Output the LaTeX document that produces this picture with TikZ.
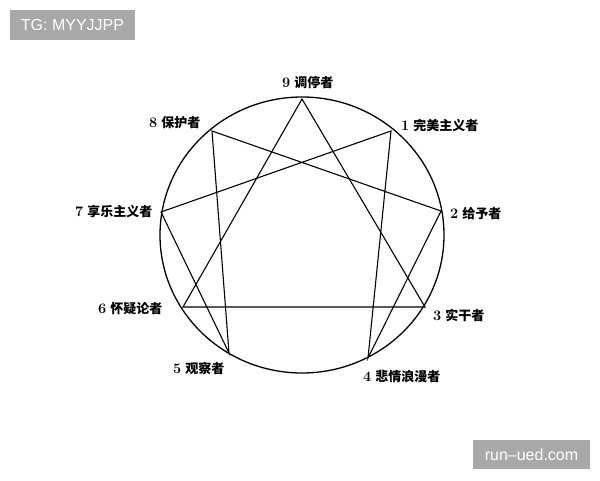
\documentclass[tikz,border=0pt]{standalone}
\usepackage{fontspec}
\newfontfamily\cjk{Noto Sans CJK SC}
\newfontfamily\wm{Liberation Sans}
\newcommand{\numlbl}[2]{{\fontsize{14.5}{14.5}\selectfont #1}\hspace{4pt}{\cjk #2}}
\begin{document}
\begin{tikzpicture}[x=1pt,y=-1pt,
  line/.style={line width=1.1pt,black},
  lbl/.style={anchor=west,inner sep=0pt,font=\bfseries\fontsize{13}{13}\selectfont},
  badge/.style={text=white,inner sep=0pt,font=\wm\fontsize{16}{16}\selectfont}]
\useasboundingbox (0,0) rectangle (600,480);
% enneagram points
\coordinate (p9) at (302,99);
\coordinate (p1) at (391,131);
\coordinate (p2) at (441,211);
\coordinate (p3) at (425,307);
\coordinate (p4) at (368,358);
\coordinate (p5) at (229,353);
\coordinate (p6) at (183,307);
\coordinate (p7) at (161,212);
\coordinate (p8) at (212,131);
\coordinate (c) at (302,235);
\draw[line width=1.3pt] (c) ellipse [x radius=142, y radius=138];
% triangle
\draw[line,line join=miter] (p9) -- (p3) -- (p6) -- cycle;
% hexad
\draw[line,line join=miter] (p1) -- (p4) -- (p2) -- (p8) -- (p5) -- (p7) -- cycle;
% labels
\node[lbl] (l9) at (282,82) {\numlbl{9}{调停者}};
\node[lbl] (l8) at (149,123) {\numlbl{8}{保护者}};
\node[lbl] (l1) at (401,126) {\numlbl{1}{完美主义者}};
\node[lbl] (l7) at (75,212) {\numlbl{7}{享乐主义者}};
\node[lbl] (l6) at (98,309) {\numlbl{6}{怀疑论者}};
\node[lbl] (l5) at (173,368) {\numlbl{5}{观察者}};
\node[lbl] (l2) at (450,214) {\numlbl{2}{给予者}};
\node[lbl] (l3) at (433,315) {\numlbl{3}{实干者}};
\node[lbl] (l4) at (363,376) {\numlbl{4}{悲情浪漫者}};
% watermarks
\fill[black!34] (10,10) rectangle (135,40);
\node[badge] (wm1) at (72.5,25) {TG: MYYJJPP};
\fill[black!34] (473,440) rectangle (590,469);
\node[badge] (wm2) at (531.5,454.5) {run–ued.com};
\end{tikzpicture}
\end{document}
